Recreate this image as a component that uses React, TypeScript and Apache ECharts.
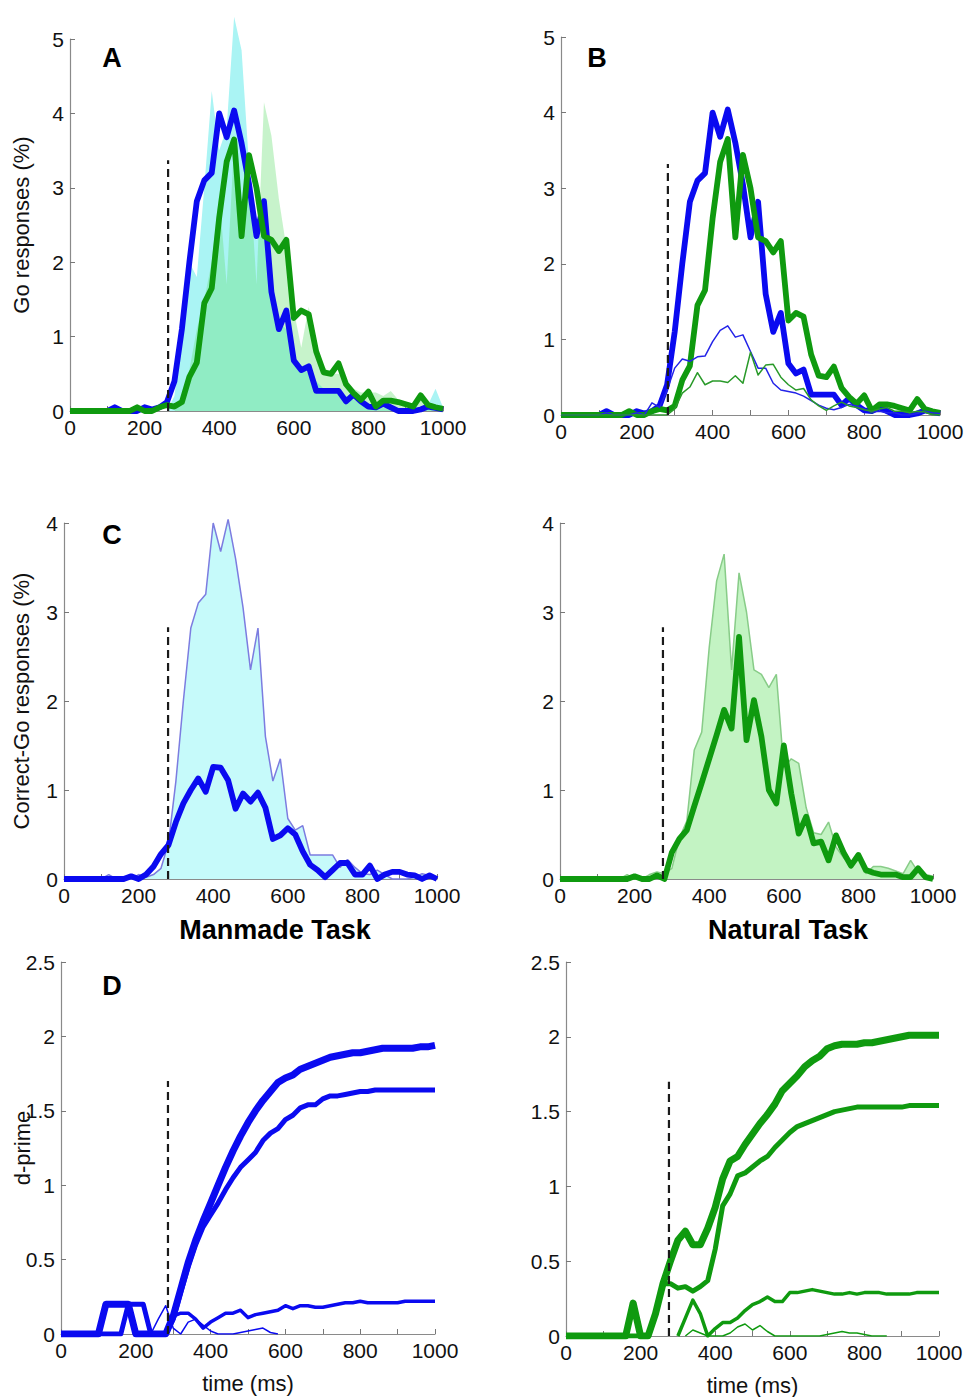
import React, { useEffect, useRef } from "react";
import * as echarts from "echarts";

// Time bins (ms), 20 ms apart
const TIME = [
  0, 20, 40, 60, 80, 100, 120, 140, 160, 180, 200, 220, 240, 260, 280, 300, 320, 340, 360, 380,
  400, 420, 440, 460, 480, 500, 520, 540, 560, 580, 600, 620, 640, 660, 680, 700, 720, 740, 760, 780,
  800, 820, 840, 860, 880, 900, 920, 940, 960, 980, 1000,
];

// Go responses (%), manmade task (blue) and natural task (green)
const GO_MANMADE = [
  0, 0, 0, 0, 0, 0, 0.05, 0, 0, 0, 0.05, 0.02, 0.05, 0.12, 0.4, 1.1, 2.0, 2.82, 3.1, 3.2,
  4.0, 3.68, 4.04, 3.6, 3.05, 2.35, 2.82, 1.6, 1.1, 1.35, 0.68, 0.55, 0.6, 0.27, 0.27, 0.27, 0.27, 0.13, 0.22, 0.13,
  0.06, 0.05, 0.1, 0.05, 0.0, 0.0, 0.0, 0.02, 0.06, 0.04, 0.02,
];
const GO_NATURAL = [
  0, 0, 0, 0, 0, 0, 0, 0, 0, 0.05, 0, 0, 0.05, 0.08, 0.06, 0.12, 0.46, 0.65, 1.45, 1.65,
  2.6, 3.35, 3.65, 2.35, 3.44, 3.0, 2.35, 2.3, 2.15, 2.3, 1.25, 1.35, 1.3, 0.8, 0.52, 0.5, 0.64, 0.36, 0.24, 0.15,
  0.26, 0.06, 0.14, 0.14, 0.12, 0.09, 0.06, 0.21, 0.08, 0.05, 0.03,
];

// Shaded go-response distributions of panel A
const GO_AREA_CYAN = [
  0, 0, 0, 0, 0, 0, 0, 0, 0, 0, 0, 0, 0, 0, 0.2, 1.0, 2.0, 1.8, 3.0, 4.3,
  3.5, 3.8, 5.3, 4.85, 3.3, 2.3, 2.4, 1.7, 1.2, 1.1, 0.75, 0.6, 0.5, 0.4, 0.3, 0.25, 0.25, 0.2, 0.15, 0.1,
  0.1, 0.05, 0.05, 0.05, 0.03, 0.02, 0.02, 0.05, 0.08, 0.3, 0.05,
];
const GO_AREA_GREEN = [
  0, 0, 0, 0, 0, 0, 0, 0, 0, 0, 0, 0, 0, 0, 0, 0.15, 0.55, 1.1, 1.5, 2.0,
  2.9, 1.7, 3.6, 2.6, 3.3, 1.7, 4.15, 3.7, 2.85, 2.2, 1.35, 0.85, 1.4, 0.9, 0.6, 0.5, 0.5, 0.4, 0.3, 0.25,
  0.25, 0.25, 0.2, 0.27, 0.15, 0.12, 0.1, 0.15, 0.1, 0.05, 0.02,
];

// Thin curves of panel B
const THIN_MANMADE = [
  0, 0, 0, 0, 0, 0, 0.03, 0, 0, 0, 0.03, 0, 0.16, 0.1, 0.33, 0.62, 0.74, 0.71, 0.77, 0.78,
  0.97, 1.12, 1.18, 1.03, 1.06, 0.84, 0.62, 0.62, 0.42, 0.33, 0.31, 0.29, 0.25, 0.19, 0.13, 0.09, 0.07, 0.1, 0.14, 0.12,
  0.08, 0.04, 0.05, 0.03, 0.03, 0, 0, 0.02, 0.05, 0.03, 0.02,
];
const THIN_NATURAL = [
  0, 0, 0, 0, 0, 0, 0, 0, 0, 0, 0, 0, 0, 0, 0, 0.08, 0.29, 0.37, 0.56, 0.4,
  0.45, 0.45, 0.43, 0.52, 0.42, 0.83, 0.53, 0.66, 0.67, 0.5, 0.4, 0.33, 0.35, 0.2, 0.12, 0.06, 0.12, 0.17, 0.12, 0.1,
  0.07, 0.05, 0.08, 0.1, 0.05, 0.05, 0.03, 0.05, 0.04, 0, 0,
];

// Correct-go responses (%)
const CORRECT_MANMADE = [
  0, 0, 0, 0, 0, 0, 0, 0, 0, 0.03, 0, 0.05, 0.14, 0.28, 0.38, 0.64, 0.85, 1.0, 1.13, 0.98,
  1.26, 1.25, 1.11, 0.79, 0.96, 0.87, 0.97, 0.8, 0.45, 0.49, 0.57, 0.5, 0.31, 0.16, 0.1, 0.02, 0.1, 0.18, 0.18, 0.05,
  0.05, 0.15, 0, 0.05, 0.08, 0.08, 0.05, 0.04, 0, 0.04, 0,
];
const CORRECT_NATURAL = [
  0, 0, 0, 0, 0, 0, 0, 0, 0, 0, 0.03, 0, 0, 0.04, 0, 0.3, 0.45, 0.55, 0.82, 1.08,
  1.35, 1.62, 1.9, 1.69, 2.72, 1.56, 2.01, 1.6, 1.0, 0.85, 1.5, 0.96, 0.51, 0.7, 0.4, 0.42, 0.21, 0.49, 0.3, 0.15,
  0.27, 0.1, 0.07, 0.05, 0.05, 0.05, 0.02, 0.02, 0.12, 0.02, 0,
];

// d-prime, manmade task (four curves, thickest first)
const DP_MANMADE_1 = [
  0, 0, 0, 0, 0, 0, 0.2, 0.2, 0.2, 0.2, 0, 0, 0, 0, 0, 0.12, 0.3, 0.48, 0.63, 0.76,
  0.88, 1.0, 1.12, 1.23, 1.33, 1.42, 1.5, 1.57, 1.63, 1.69, 1.72, 1.74, 1.78, 1.8, 1.82, 1.84, 1.86, 1.87, 1.88, 1.89,
  1.89, 1.9, 1.91, 1.92, 1.92, 1.92, 1.92, 1.92, 1.93, 1.93, 1.94,
];
const DP_MANMADE_2 = [
  0, 0, 0, 0, 0, 0, 0, 0, 0, 0.2, 0.2, 0.2, 0, 0, 0, 0.1, 0.28, 0.45, 0.6, 0.72,
  0.8, 0.88, 0.97, 1.05, 1.12, 1.17, 1.22, 1.3, 1.35, 1.38, 1.44, 1.47, 1.52, 1.54, 1.54, 1.58, 1.6, 1.6, 1.61, 1.62,
  1.63, 1.63, 1.64, 1.64, 1.64, 1.64, 1.64, 1.64, 1.64, 1.64, 1.64,
];
const DP_MANMADE_3 = [
  null, null, null, null, null, null, null, null, null, null, null, null, null, null, 0, 0.12, 0.14, 0.14, 0.1, 0.04,
  0.08, 0.11, 0.14, 0.14, 0.16, 0.11, 0.13, 0.14, 0.15, 0.16, 0.19, 0.17, 0.19, 0.19, 0.18, 0.18, 0.19, 0.2, 0.21, 0.21,
  0.22, 0.21, 0.21, 0.21, 0.21, 0.21, 0.22, 0.22, 0.22, 0.22, 0.22,
];
const DP_MANMADE_4 = [
  null, null, null, null, null, null, null, null, null, null, null, null, 0, 0.1, 0.19, 0.04, 0, 0.08, 0.1, 0.06,
  0.02, 0, 0, 0, 0.01, 0.02, 0.03, 0.04, 0.01, 0, null, null, null, null, null, null, null, null, null, null,
  null, null, null, null, null, null, null, null, null, null, null,
];

// d-prime, natural task (four curves, thickest first)
const DP_NATURAL_1 = [
  0, 0, 0, 0, 0, 0, 0, 0, 0, 0.22, 0, 0, 0.15, 0.35, 0.5, 0.64, 0.7, 0.61, 0.61, 0.72,
  0.86, 1.05, 1.17, 1.2, 1.28, 1.35, 1.42, 1.48, 1.55, 1.64, 1.69, 1.74, 1.8, 1.84, 1.87, 1.92, 1.94, 1.95, 1.95, 1.95,
  1.96, 1.96, 1.97, 1.98, 1.99, 2.0, 2.01, 2.01, 2.01, 2.01, 2.01,
];
const DP_NATURAL_2 = [
  0, 0, 0, 0, 0, 0, 0, 0, 0, 0, 0, 0, 0.15, 0.35, 0.35, 0.32, 0.33, 0.3, 0.33, 0.37,
  0.58, 0.87, 0.95, 1.07, 1.09, 1.13, 1.17, 1.2, 1.26, 1.31, 1.36, 1.4, 1.42, 1.44, 1.46, 1.48, 1.5, 1.51, 1.52, 1.53,
  1.53, 1.53, 1.53, 1.53, 1.53, 1.53, 1.54, 1.54, 1.54, 1.54, 1.54,
];
const DP_NATURAL_3 = [
  null, null, null, null, null, null, null, null, null, null, null, null, null, null, null, 0, 0.12, 0.24, 0.15, 0,
  0.05, 0.09, 0.09, 0.12, 0.17, 0.21, 0.23, 0.26, 0.23, 0.23, 0.29, 0.29, 0.3, 0.31, 0.3, 0.29, 0.28, 0.28, 0.29, 0.28,
  0.29, 0.29, 0.29, 0.28, 0.28, 0.28, 0.28, 0.29, 0.29, 0.29, 0.29,
];
const DP_NATURAL_4 = [
  null, null, null, null, null, null, null, null, null, null, null, null, null, null, null, null, 0, 0.04, 0.02, 0,
  0, 0, 0.02, 0.06, 0.08, 0.04, 0.07, 0.03, 0, 0, 0, 0, 0, 0, 0, 0.01, 0.02, 0.03, 0.02, 0.02,
  0.01, 0, 0, 0, null, null, null, null, null, null, null,
];

// Dashed reference lines: [time, top value] per panel
const DASH_A = [263, 3.37];
const DASH_B = [282, 3.32];
const DASH_C = [279, 2.83];
const DASH_C2 = [276, 2.83];
const DASH_D = [286, 1.7];
const DASH_D2 = [276, 1.7];

// Axis ranges
const X_MAX = 1000;
const GO_Y_MAX = 5;
const CORRECT_Y_MAX = 4;
const DP_Y_MAX = 2.5;

const FONT = '"Liberation Sans", Arial, Helvetica, sans-serif';
const BLUE = "#0a0af0";
const GREEN = "#0f9a0f";

const pairs = (vals: (number | null)[]) =>
  TIME.map((t, i) => [t, vals[i] === null ? "-" : vals[i]]);

function App() {
  const ref = useRef<HTMLDivElement>(null);

  useEffect(() => {
    if (!ref.current) return;
    const chart = echarts.init(ref.current, undefined, { renderer: "svg" });

    const grids = [
      { left: 70, top: 39, width: 373, height: 372 },
      { left: 561, top: 37, width: 379, height: 378 },
      { left: 64, top: 523, width: 373, height: 356 },
      { left: 560, top: 523, width: 373, height: 356 },
      { left: 61, top: 962, width: 374, height: 372 },
      { left: 566, top: 962, width: 373, height: 374 },
    ];

    const xAxis = (gridIndex: number, name = "") => ({
      gridIndex,
      type: "value",
      min: 0,
      max: X_MAX,
      interval: 100,
      name,
      nameLocation: "middle",
      nameGap: 38,
      nameMoveOverlap: false,
      nameTextStyle: { fontFamily: FONT, fontSize: 22, color: "#111" },
      axisLine: { lineStyle: { color: "#8a8a8a", width: 1.2 } },
      axisTick: { inside: true, length: 5, lineStyle: { color: "#777" } },
      axisLabel: {
        formatter: (v: number) => (v % 200 === 0 ? String(v) : ""),
        fontFamily: FONT,
        fontSize: 21,
        color: "#111",
        margin: 6,
      },
      splitLine: { show: false },
    });

    const yAxis = (gridIndex: number, max: number, interval: number, name = "", gap = 38) => ({
      gridIndex,
      type: "value",
      min: 0,
      max,
      interval,
      name,
      nameLocation: "middle",
      nameRotate: 90,
      nameGap: gap,
      nameMoveOverlap: false,
      nameTextStyle: { fontFamily: FONT, fontSize: 22, color: "#111" },
      axisLine: { show: true, lineStyle: { color: "#8a8a8a", width: 1.2 } },
      axisTick: { show: true, inside: true, length: 5, lineStyle: { color: "#777" } },
      axisLabel: { fontFamily: FONT, fontSize: 21, color: "#111", margin: 6 },
      splitLine: { show: false },
    });

    const line = (idx: number, vals: (number | null)[], color: string, width: number) => ({
      type: "line",
      xAxisIndex: idx,
      yAxisIndex: idx,
      data: pairs(vals),
      symbol: "none",
      silent: true,
      lineStyle: { color, width, join: "round" },
    });

    const area = (
      idx: number,
      vals: number[],
      fill: string,
      outline: string,
      outlineWidth: number
    ) => ({
      type: "line",
      xAxisIndex: idx,
      yAxisIndex: idx,
      data: pairs(vals),
      symbol: "none",
      silent: true,
      clip: false,
      lineStyle: { color: outline, width: outlineWidth, opacity: outlineWidth > 0 ? 1 : 0 },
      areaStyle: { color: fill, opacity: 1 },
    });

    const dashed = (idx: number, d: number[]) => ({
      type: "line",
      xAxisIndex: idx,
      yAxisIndex: idx,
      data: [
        [d[0], 0],
        [d[0], d[1]],
      ],
      symbol: "none",
      silent: true,
      lineStyle: { color: "#1a1a1a", width: 2.2, type: [8, 5] },
    });

    const boldText = (text: string, x: number, y: number) => ({
      type: "text",
      x,
      y,
      silent: true,
      style: {
        text,
        fontFamily: FONT,
        fontSize: 27,
        fontWeight: "bold",
        fill: "#000",
        align: "center",
        verticalAlign: "middle",
      },
    });

    const option = {
      animation: false,
      backgroundColor: "#ffffff",
      grid: grids.map((g) => ({ ...g, containLabel: false })),
      xAxis: [
        xAxis(0),
        xAxis(1),
        xAxis(2),
        xAxis(3),
        xAxis(4, "time (ms)"),
        xAxis(5, "time (ms)"),
      ],
      yAxis: [
        yAxis(0, GO_Y_MAX, 1, "Go responses (%)", 38),
        yAxis(1, GO_Y_MAX, 1),
        yAxis(2, CORRECT_Y_MAX, 1, "Correct-Go responses (%)", 32),
        yAxis(3, CORRECT_Y_MAX, 1),
        yAxis(4, DP_Y_MAX, 0.5, "d-prime", 28),
        yAxis(5, DP_Y_MAX, 0.5),
      ],
      series: [
        // A
        area(0, GO_AREA_CYAN, "#aaf4f4", "#aaf4f4", 0),
        area(0, GO_AREA_GREEN, "rgba(100,222,110,0.36)", "#aaf4f4", 0),
        line(0, GO_MANMADE, BLUE, 5.8),
        line(0, GO_NATURAL, GREEN, 5.8),
        dashed(0, DASH_A),
        // B
        line(1, GO_MANMADE, BLUE, 5.8),
        line(1, GO_NATURAL, GREEN, 5.8),
        line(1, THIN_MANMADE, "#2323e8", 1.5),
        line(1, THIN_NATURAL, "#2a9a2a", 1.5),
        dashed(1, DASH_B),
        // C, manmade
        area(2, GO_MANMADE, "#c6fafa", "#7c7ce0", 1.5),
        line(2, CORRECT_MANMADE, BLUE, 5.8),
        dashed(2, DASH_C),
        // C, natural
        area(3, GO_NATURAL, "#c3f3c3", "#88cc88", 1.5),
        line(3, CORRECT_NATURAL, GREEN, 5.8),
        dashed(3, DASH_C2),
        // D, manmade
        line(4, DP_MANMADE_1, BLUE, 7),
        line(4, DP_MANMADE_2, BLUE, 5),
        line(4, DP_MANMADE_3, BLUE, 3.5),
        line(4, DP_MANMADE_4, BLUE, 1.5),
        dashed(4, DASH_D),
        // D, natural
        line(5, DP_NATURAL_1, GREEN, 7),
        line(5, DP_NATURAL_2, GREEN, 5),
        line(5, DP_NATURAL_3, GREEN, 3.5),
        line(5, DP_NATURAL_4, GREEN, 1.5),
        dashed(5, DASH_D2),
      ],
      graphic: [
        boldText("A", 112, 58),
        boldText("B", 597, 58),
        boldText("C", 112, 535),
        boldText("D", 112, 986),
        boldText("Manmade Task", 275, 930),
        boldText("Natural Task", 788, 930),
      ],
    };

    chart.setOption(option as any);
    return () => chart.dispose();
  }, []);

  return (
    <div
      ref={ref}
      style={{ position: "absolute", left: 0, top: 0, width: 967, height: 1397, background: "#fff" }}
    />
  );
}

export default App;
